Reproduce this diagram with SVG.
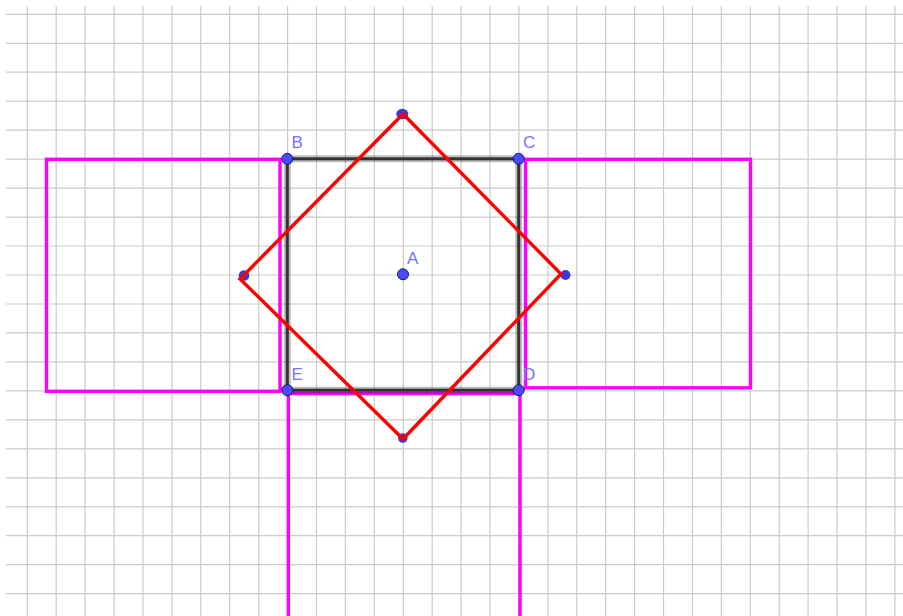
<svg xmlns="http://www.w3.org/2000/svg" width="903" height="616" viewBox="0 0 903 616">
<defs>
<style>
.grid line{stroke:#cbcbcb;stroke-width:1.2}
.mag{fill:none;stroke:#ff00ff;stroke-width:3.4}
.sq{fill:none;stroke:#333;stroke-width:3}
.sqh{fill:none;stroke:#000;stroke-opacity:0.25;stroke-width:7}
.red{fill:none;stroke:#ff0000;stroke-width:3.4;stroke-linejoin:miter}
.pt{fill:#4a4aff;stroke:#1a1a66;stroke-width:1}
.vb{fill:#3a3ad8}
.lbl{font-family:"Liberation Sans","DejaVu Sans",sans-serif;font-size:17px;fill:#7373ff}
</style>
</defs>
<rect x="0" y="0" width="903" height="616" fill="#fff"/>
<g id="grid" class="grid">
<line x1="27.3" y1="6" x2="27.3" y2="616"/><line x1="56.2" y1="6" x2="56.2" y2="616"/><line x1="85.1" y1="6" x2="85.1" y2="616"/><line x1="114.1" y1="6" x2="114.1" y2="616"/><line x1="143" y1="6" x2="143" y2="616"/><line x1="171.9" y1="6" x2="171.9" y2="616"/><line x1="200.8" y1="6" x2="200.8" y2="616"/><line x1="229.7" y1="6" x2="229.7" y2="616"/><line x1="258.7" y1="6" x2="258.7" y2="616"/><line x1="287.6" y1="6" x2="287.6" y2="616"/><line x1="316.5" y1="6" x2="316.5" y2="616"/><line x1="345.4" y1="6" x2="345.4" y2="616"/><line x1="374.3" y1="6" x2="374.3" y2="616"/><line x1="403.3" y1="6" x2="403.3" y2="616"/><line x1="432.2" y1="6" x2="432.2" y2="616"/><line x1="461.1" y1="6" x2="461.1" y2="616"/><line x1="490" y1="6" x2="490" y2="616"/><line x1="518.9" y1="6" x2="518.9" y2="616"/><line x1="547.9" y1="6" x2="547.9" y2="616"/><line x1="576.8" y1="6" x2="576.8" y2="616"/><line x1="605.7" y1="6" x2="605.7" y2="616"/><line x1="634.6" y1="6" x2="634.6" y2="616"/><line x1="663.5" y1="6" x2="663.5" y2="616"/><line x1="692.5" y1="6" x2="692.5" y2="616"/><line x1="721.4" y1="6" x2="721.4" y2="616"/><line x1="750.3" y1="6" x2="750.3" y2="616"/><line x1="779.2" y1="6" x2="779.2" y2="616"/><line x1="808.1" y1="6" x2="808.1" y2="616"/><line x1="837.1" y1="6" x2="837.1" y2="616"/><line x1="866" y1="6" x2="866" y2="616"/><line x1="894.9" y1="6" x2="894.9" y2="616"/>
<line x1="6" y1="14.3" x2="903" y2="14.3"/><line x1="6" y1="43.3" x2="903" y2="43.3"/><line x1="6" y1="72.2" x2="903" y2="72.2"/><line x1="6" y1="101.2" x2="903" y2="101.2"/><line x1="6" y1="130.2" x2="903" y2="130.2"/><line x1="6" y1="159.1" x2="903" y2="159.1"/><line x1="6" y1="188.1" x2="903" y2="188.1"/><line x1="6" y1="217.1" x2="903" y2="217.1"/><line x1="6" y1="246" x2="903" y2="246"/><line x1="6" y1="275" x2="903" y2="275"/><line x1="6" y1="304" x2="903" y2="304"/><line x1="6" y1="332.9" x2="903" y2="332.9"/><line x1="6" y1="361.9" x2="903" y2="361.9"/><line x1="6" y1="390.9" x2="903" y2="390.9"/><line x1="6" y1="419.9" x2="903" y2="419.9"/><line x1="6" y1="448.8" x2="903" y2="448.8"/><line x1="6" y1="477.8" x2="903" y2="477.8"/><line x1="6" y1="506.8" x2="903" y2="506.8"/><line x1="6" y1="535.7" x2="903" y2="535.7"/><line x1="6" y1="564.7" x2="903" y2="564.7"/><line x1="6" y1="593.7" x2="903" y2="593.7"/>
</g>
<g id="magenta-rects">
<rect id="rect-left" class="mag" x="46.5" y="159.3" width="233.5" height="232"/>
<rect id="rect-right" class="mag" x="525.5" y="159.3" width="225" height="228.5"/>
<path id="rect-bottom" class="mag" d="M288.3,625 L288.3,393.5 L520,393.5 L520,625"/>
</g>
<g id="square-BCDE">
<rect class="sqh" x="287.3" y="158.8" width="231.4" height="231.4"/>
<rect class="sq" x="287.3" y="158.8" width="231.4" height="231.4"/>
</g>
<g id="vertex-points">
<ellipse id="pt-top" class="vb" cx="402.3" cy="114" rx="6" ry="5.2"/>
<ellipse id="pt-left" class="vb" cx="244" cy="275.5" rx="5.3" ry="5.3"/>
<circle id="pt-right" class="vb" cx="565.5" cy="275" r="5"/>
<circle id="pt-bottom" class="vb" cx="402.8" cy="438" r="4.8"/>
</g>
<g id="red-square">
<polygon class="red" points="403,114 561,274 403,439 240,279"/>
</g>
<g id="points">
<g id="pt-A"><circle class="pt" cx="403" cy="274.3" r="5.5"/><text class="lbl" x="407" y="264">A</text></g>
<g id="pt-B"><circle class="pt" cx="287.3" cy="158.8" r="5.5"/><text class="lbl" x="291.5" y="148">B</text></g>
<g id="pt-C"><circle class="pt" cx="518.7" cy="158.8" r="5.5"/><text class="lbl" x="523" y="148">C</text></g>
<g id="pt-D"><circle class="pt" cx="518.7" cy="390.2" r="5.5"/><text class="lbl" x="523" y="380">D</text></g>
<g id="pt-E"><circle class="pt" cx="287.3" cy="390.2" r="5.5"/><text class="lbl" x="291.5" y="380">E</text></g>
</g>
</svg>
